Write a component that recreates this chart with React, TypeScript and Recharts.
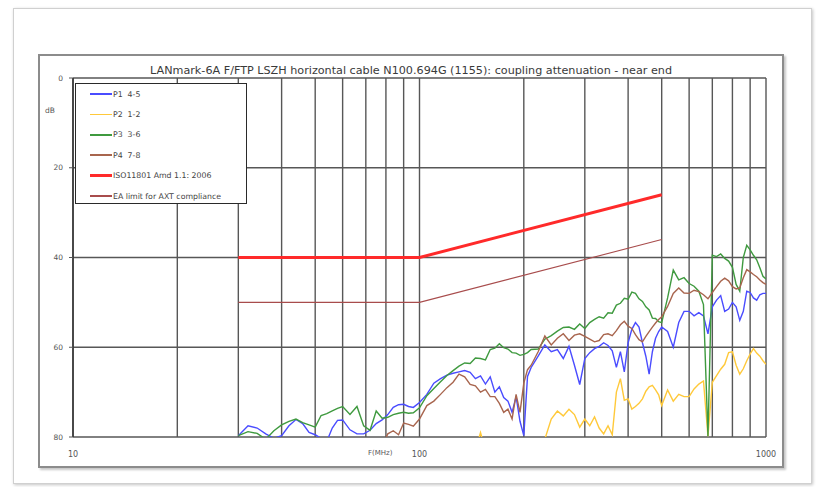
import React from "react";
import { LineChart, Line, XAxis, YAxis, CartesianGrid } from "recharts";

// frequency grid (MHz) shared by the four measured pairs
const FREQ = [
  30, 32, 34, 36, 38, 40, 42, 44, 46, 48, 50, 52, 54, 56, 58, 60,
  63, 66, 69, 72, 75, 78, 81, 84, 87, 90, 93, 96,
  100, 105, 110, 115, 120, 125, 130, 135, 140, 145, 150, 155, 160, 165, 170, 175, 180, 185, 190, 195, 200,
  205, 210,
  220, 230, 240, 250, 260, 270, 280, 290, 300, 310, 320, 330, 340, 350, 360, 370, 380, 390, 400,
  410, 420, 430, 440, 450, 460, 470, 480, 490, 500,
  520, 540, 560, 580, 600, 620, 640, 660, 680, 700, 720, 740, 760, 780, 800, 820, 840, 860, 880, 900,
  920, 940, 960, 980, 1000,
];

// coupling attenuation, dB (values past 80 fall below the plot and are clipped)
const P1 = [
  79.7, 77.5, 78, 79.3, 80.3, 79.7, 77.5, 76.1, 77, 79, 79.5, 80.3, 81, 78, 76.3, 76.2,
  78.4, 79.3, 79.3, 78.5, 77, 76.2, 75, 73.4, 72.8, 72.7, 73.2, 73.4,
  72.3, 70.5, 68, 67, 66.2, 65.8, 65.5, 65.2, 65.6, 67, 66.4, 68.2, 66.6, 70, 68.8, 71.2, 72, 74.5, 71, 76.5, 79.7,
  66.5, 64.5,
  62, 59.5, 61, 60.5, 62.5, 59.8, 64, 68.3, 62.5, 61.2, 60.3, 59.8, 59, 59.6, 60.8, 64.5, 61, 65.5, 59,
  56, 54.5, 55.5, 59, 62, 66, 61, 58, 56.5, 55.5,
  56.5, 60, 54.5, 52, 52, 53, 52.3, 53, 57, 51, 49.5, 48.5, 52, 51.5, 50, 51, 54, 52, 47.5, 47.8,
  49, 49.5, 48.3, 48, 48,
];

const P2 = [
  86, 86, 86, 86, 86, 86, 86, 86, 86, 86, 86, 86, 86, 86, 86, 86,
  86, 86, 86, 86, 86, 86, 86, 86, 86, 86, 86, 86,
  86, 86, 86, 86, 86, 86, 86, 86, 86, 83, 79, 83, 86, 86, 86, 86, 86, 86, 86, 86, 86,
  86, 86,
  86, 80.5, 76, 74.2, 75.3, 73.8, 75, 77.8, 76, 77.5, 75.5, 78, 79.3, 77.5, 79.5, 70, 67, 71.8, 71.5,
  73.8, 73.2, 72.5, 71.5, 69.8, 68.8, 68.5, 69.5, 70.6, 73,
  69.5, 72, 70.5, 71, 71, 69.3, 68.2, 67.5, 79.8, 67.8, 66.3, 64.9, 63.8, 61.2, 61, 64, 66, 64.8, 63, 61.5,
  60.3, 61.3, 62, 63, 63.8,
];

const P3 = [
  79.7, 78.8, 79.2, 80.5, 78.6, 77.3, 76.5, 76, 76.8, 77.3, 77.8, 75.2, 74.8, 74.2, 73.6, 73.2,
  75, 73.2, 77.5, 78.5, 74.2, 75.8, 75.6, 75, 74.7, 74.5, 74.7, 74.6,
  73.5, 70.8, 69.2, 67.7, 66.3, 65.2, 64.2, 63.5, 63.6, 62.4, 62.5, 62.8, 60.5, 60.2, 59.2, 60.1, 60.4, 61.2, 61.3, 61.8, 61.6,
  61.2, 60.5,
  60.4, 58.2, 57.4, 56.4, 55.6, 55.5, 56, 54.8, 55.8, 54.5, 53.8, 53.2, 53.5, 52.3, 52.4, 50.6, 50.2, 49.1, 49.3,
  47.7, 48, 49.2, 49.8, 51, 51.7, 53.5, 53.6, 54.3, 54.5,
  49, 42.8, 45, 44.5, 45.8, 46.4, 47.5, 50.5, 79.8, 39.5, 39.8, 39.2, 40.2, 40.8, 42.2, 46, 47.5, 40, 37.3, 38.3,
  39.5, 40.5, 42.3, 44.2, 44.8,
];

const P4 = [
  86, 86, 86, 86, 86, 86, 86, 86, 86, 86, 86, 86, 86, 86, 86, 86,
  86, 86, 86, 86, 86, 82, 79.3, 78.6, 79.5, 76.9, 77.2, 77.6,
  76, 73, 72, 70.5, 69, 67.8, 66, 66.6, 68.3, 68.6, 70, 69.4, 71, 71, 72.5, 74.5, 73.8, 76, 70.5, 74.5, 68,
  65, 64,
  61, 57.5, 59.5, 58, 57, 58.5, 57.3, 57, 57.6, 58.2, 58.8, 58.5, 57.2, 57, 57.4, 56.3, 55, 54.2, 55.3,
  55.8, 57.2, 58.3, 58.8, 57.6, 56.5, 55.5, 54.6, 53.8, 53.2,
  50.9, 48, 46.8, 47.9, 48, 47.3, 47.6, 48.3, 49.2, 47.8, 46.5, 45.3, 44.6, 45.2, 46.5, 47, 46.8, 44.5, 42.7, 43.2,
  43.8, 44.3, 45, 45.6, 46,
];

// limit lines
const LIMIT_FREQ = [30, 100, 500];
const ISO_LIMIT = [40, 40, 26];
const EA_LIMIT = [50, 50, 36];

const X_TICKS = [10, 20, 30, 40, 50, 60, 70, 80, 90, 100, 200, 300, 400, 500, 600, 700, 800, 900, 1000];
const X_LABELS = [10, 100, 1000];
const Y_TICKS = [0, 20, 40, 60, 80];

const SERIES = [
  { key: "p1", label: "P1  4-5", color: "#4a4cff", width: 1.4 },
  { key: "p2", label: "P2  1-2", color: "#ffc93a", width: 1.4 },
  { key: "p3", label: "P3  3-6", color: "#3f9a3f", width: 1.4 },
  { key: "p4", label: "P4  7-8", color: "#a8654e", width: 1.4 },
  { key: "iso", label: "ISO11801 Amd 1.1: 2006", color: "#ff2a2a", width: 3 },
  { key: "ea", label: "EA limit for AXT compliance", color: "#a84c4c", width: 1.1 },
];

const FONT = "'DejaVu Sans', Verdana, sans-serif";

const data = FREQ.map((f, i) => ({ f, p1: P1[i], p2: P2[i], p3: P3[i], p4: P4[i] }));
const limits = LIMIT_FREQ.map((f, i) => ({ f, iso: ISO_LIMIT[i], ea: EA_LIMIT[i] }));

export default function App() {
  return (
    <div style={{ position: "absolute", left: 0, top: 0, width: 817, height: 487, background: "#fff", overflow: "hidden" }}>
      {/* page frame + chart frame */}
      <div
        style={{
          position: "absolute", left: 13, top: 8, width: 797, height: 474,
          border: "1px solid #d0d0d0", boxShadow: "1px 1px 3px #c4c4c4",
        }}
      />
      <div
        style={{
          position: "absolute", left: 38, top: 54, width: 742, height: 410,
          border: "2px solid #8c8c8c", boxShadow: "2px 2px 2px #c8c8c8",
        }}
      />

      <div style={{ position: "absolute", left: 0, top: 0 }}>
        <LineChart width={817} height={487} data={data} margin={{ top: 78, right: 51, bottom: 20, left: 43 }}>
          <CartesianGrid stroke="#575757" strokeWidth={1.4} />
          <XAxis
            dataKey="f"
            type="number"
            scale="log"
            domain={[10, 1000]}
            allowDataOverflow
            ticks={X_TICKS}
            interval={0}
            height={30}
            axisLine={false}
            tickLine={false}
            tickSize={8}
            tickMargin={6}
            tick={{ fontSize: 8, fill: "#555", fontFamily: FONT }}
            tickFormatter={(v: number) => (X_LABELS.includes(v) ? String(v) : "")}
          />
          <YAxis
            type="number"
            reversed
            domain={[0, 80]}
            allowDataOverflow
            ticks={Y_TICKS}
            interval={0}
            width={30}
            axisLine={{ stroke: "#333", strokeWidth: 1.5 }}
            tickLine={{ stroke: "#555" }}
            tickSize={4}
            tickMargin={6}
            tick={{ fontSize: 7.5, fill: "#555", fontFamily: FONT }}
          />
          {SERIES.slice(0, 4).map((s) => (
            <Line
              key={s.key}
              dataKey={s.key}
              type="linear"
              stroke={s.color}
              strokeWidth={s.width}
              dot={false}
              isAnimationActive={false}
            />
          ))}
          {SERIES.slice(4).map((s) => (
            <Line
              key={s.key}
              data={limits}
              dataKey={s.key}
              type="linear"
              stroke={s.color}
              strokeWidth={s.width}
              dot={false}
              isAnimationActive={false}
            />
          ))}
        </LineChart>
      </div>

      {/* title */}
      <div
        style={{
          position: "absolute", left: 0, top: 64, width: 822, textAlign: "center",
          fontFamily: FONT, fontSize: 11.2, color: "#3a3a3a", lineHeight: "14px", whiteSpace: "nowrap",
        }}
      >
        LANmark-6A F/FTP LSZH horizontal cable N100.694G (1155): coupling attenuation - near end
      </div>

      {/* axis titles */}
      <div style={{ position: "absolute", left: 45, top: 106, fontFamily: FONT, fontSize: 7.5, color: "#555" }}>dB</div>
      <div style={{ position: "absolute", left: 368, top: 449, fontFamily: FONT, fontSize: 7, color: "#555" }}>F(MHz)</div>

      {/* legend */}
      <div
        style={{
          position: "absolute", left: 75, top: 83, width: 170, height: 119,
          border: "1.5px solid #2a2a2a", background: "#fff",
        }}
      >
        {SERIES.map((s, i) => (
          <div
            key={s.key}
            style={{ position: "absolute", left: 14, top: 4 + i * 20.4, height: 12, display: "flex", alignItems: "center" }}
          >
            <div style={{ width: 22, height: Math.max(1.5, s.width), background: s.color }} />
            <span style={{ marginLeft: 1, fontFamily: FONT, fontSize: 7.8, color: "#444", whiteSpace: "pre" }}>{s.label}</span>
          </div>
        ))}
      </div>
    </div>
  );
}
